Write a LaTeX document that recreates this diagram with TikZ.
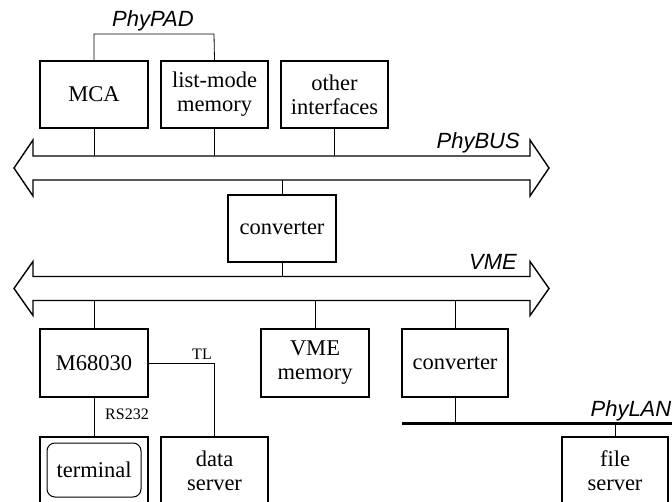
\documentclass[tikz,border=0pt]{standalone}
\usepackage{fontspec}
\setmainfont{Liberation Serif}
\newfontfamily\helv{Liberation Sans}
\begin{document}
\begin{tikzpicture}[x=1pt,y=-1pt,
  box/.style={draw, line width=1.1pt, minimum width=108pt, minimum height=67pt, inner sep=0pt, align=center, font=\fontsize{22.5}{24}\selectfont},
  link/.style={draw, line width=0.8pt},
  bus/.style={draw, line width=1.4pt, line join=miter},
  lan/.style={draw, line width=3pt},
  lbl/.style={font=\helv\itshape\fontsize{22}{24}\selectfont, inner sep=0pt},
  small/.style={font=\fontsize{16}{18}\selectfont, inner sep=0pt}]
\useasboundingbox (0,0) rectangle (672,502);
\clip (0,0) rectangle (672,502);

% PhyBUS
\draw[bus] (33,156) -- (530,156) -- (530,140) -- (549,168) -- (530,196) -- (530,180)
  -- (33,180) -- (33,196) -- (14,168) -- (33,140) -- cycle;
\coordinate (pbT) at (0,156);
\coordinate (pbB) at (0,180);
\node[lbl, anchor=base east] (phybus) at (520,149) {PhyBUS};

% VME bus
\draw[bus] (33,276.5) -- (530,276.5) -- (530,261.5) -- (549,288.5) -- (530,315.5) -- (530,300.5)
  -- (33,300.5) -- (33,315.5) -- (14,288.5) -- (33,261.5) -- cycle;
\coordinate (vmT) at (0,276.5);
\coordinate (vmB) at (0,300.5);
\node[lbl, anchor=base east] (vmelbl) at (517,270) {VME};

% top row
\node[box] (mca) at (94,94.5) {MCA};
\node[box, minimum width=107pt] (lmm) at (214.5,94.5) {list-mode\\memory};
\node[box, minimum width=107pt] (oth) at (334.5,94.5) {other\\interfaces};
\node[lbl, anchor=base] (phypad) at (153,27) {PhyPAD};
\coordinate (padL) at (94,34);
\coordinate (padR) at (214,34);
\draw[link] (mca.north) -- (padL) -- (padR) -- (lmm.north);
\draw[link] (mca.south) -- (mca.south |- pbT);
\draw[link] (lmm.south) -- (lmm.south |- pbT);
\draw[link] (oth.south) -- (oth.south |- pbT);

% converter between buses
\node[box] (conv1) at (282,228.5) {converter};
\draw[link] (conv1.north) -- (conv1.north |- pbB);
\draw[link] (conv1.south) -- (conv1.south |- vmT);

% VME row
\node[box, minimum height=68pt] (cpu) at (94,363) {M68030};
\node[box, minimum height=68pt] (vmem) at (315,363) {VME\\memory};
\node[box, minimum height=68pt, minimum width=106pt] (conv2) at (455,363) {converter};
\draw[link] (cpu.north) -- (cpu.north |- vmB);
\draw[link] (vmem.north) -- (vmem.north |- vmB);
\draw[link] (conv2.north) -- (conv2.north |- vmB);

% PhyLAN
\coordinate (lanL) at (402,423);
\coordinate (lanR) at (672,423);
\draw[lan] (lanL) -- (lanR);
\node[lbl, anchor=base east] (phylan) at (671.5,417) {PhyLAN};
\draw[link] (conv2.south) -- (conv2.south |- lanL);

% bottom row
\node[box, minimum height=68pt] (term) at (94,471) {};
\node[draw, line width=1pt, rounded corners=8pt, minimum width=94pt, minimum height=54pt,
  inner sep=0pt, font=\fontsize{22.5}{24}\selectfont] (termin) at (94,470) {terminal};
\node[box, minimum height=68pt, minimum width=107pt] (dsrv) at (214.5,471) {data\\server};
\node[box, minimum height=68pt, minimum width=106pt] (fsrv) at (615,471) {file\\server};
\draw[link] (fsrv.north) -- (fsrv.north |- lanL);

\draw[link] (cpu.south) -- (term.north);
\node[small, anchor=base] (rs) at (127,419) {RS232};
\coordinate (tlc) at (dsrv.north |- cpu.east);
\draw[link] (cpu.east) -- (tlc) -- (dsrv.north);
\node[small, anchor=base] (tl) at (202,360) {TL};
\end{tikzpicture}
\end{document}
